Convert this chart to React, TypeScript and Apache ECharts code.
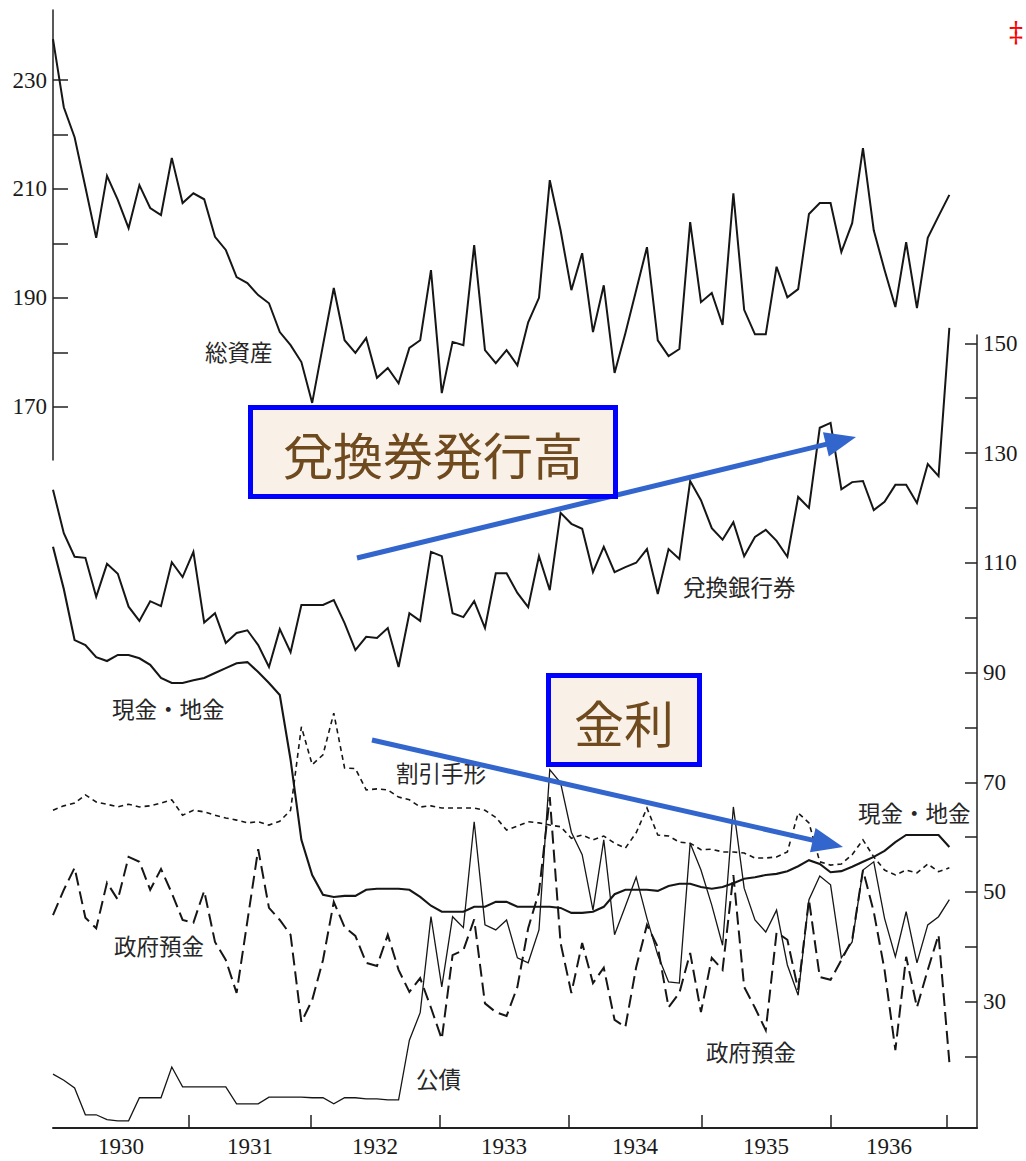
import React, { useEffect, useRef } from "react";
import * as echarts from "echarts";

// ---- data (monthly, Jan 1930 – Dec 1936) ----
const years = ["1930", "1931", "1932", "1933", "1934", "1935", "1936"];
const yearTickPos = [12.59, 23.89, 35.83, 47.78, 60.09, 72.04, 82.78];
const yearLabelPos = [6.3, 18.24, 29.81, 41.76, 53.89, 66.02, 77.41];

const leftTicks = [170, 180, 190, 200, 210, 220, 230];
const leftLabels = [170, 190, 210, 230];
const rightTicks = [20, 30, 40, 50, 60, 70, 80, 90, 100, 110, 120, 130, 140, 150];
const rightLabels = [30, 50, 70, 90, 110, 130, 150];

// 総資産 (left axis)
const totalAssets = [
  237.5, 225.0, 219.5, 210.3, 201.0, 212.4, 208.0, 202.8, 210.7, 206.5,
  205.2, 215.7, 207.4, 209.2, 208.1, 201.2, 198.8, 193.8, 192.7, 190.5,
  189.0, 183.7, 181.3, 178.2, 170.7, 181.3, 191.8, 182.2, 179.9, 182.6,
  175.3, 177.1, 174.3, 180.8, 182.2, 195.1, 172.5, 181.9, 181.3, 199.7,
  180.4, 178.0, 180.4, 177.6, 185.5, 190.0, 211.6, 202.4, 191.4, 198.2,
  183.7, 192.3, 176.2, 183.5, 191.4, 199.3, 182.2, 179.3, 180.6, 203.9,
  189.2, 190.9, 185.0, 209.2, 187.8, 183.3, 183.3, 195.7, 190.1, 191.6,
  205.4, 207.4, 207.4, 198.4, 203.7, 217.5, 202.4, 195.1, 188.3, 200.2,
  188.1, 201.0, 205.0, 208.9,
];

// 兌換銀行券 (right axis)
const bankNotes = [
  123.3, 115.4, 111.1, 110.9, 103.8, 109.8, 108.0, 102.0, 99.4, 103.0,
  102.1, 110.1, 107.4, 112.0, 99.1, 100.8, 95.4, 97.2, 97.7, 95.0,
  91.0, 97.9, 93.7, 102.3, 102.3, 102.3, 103.2, 99.0, 94.1, 96.5,
  96.3, 98.1, 91.0, 100.8, 99.4, 112.0, 111.2, 100.8, 100.1, 103.0,
  98.1, 108.1, 108.1, 104.5, 101.9, 111.2, 105.0, 119.1, 117.1, 116.2,
  108.3, 112.9, 108.3, 109.2, 110.0, 112.5, 104.3, 112.5, 110.7, 124.9,
  121.4, 116.3, 114.2, 117.4, 111.2, 114.7, 116.0, 114.0, 111.1, 122.0,
  120.0, 134.6, 135.5, 123.4, 124.7, 124.9, 119.6, 121.1, 124.2, 124.2,
  120.9, 128.0, 125.8, 152.8,
];

// 現金・地金 (right axis)
const specie = [
  112.9, 105.2, 95.9, 95.0, 92.8, 92.1, 93.2, 93.2, 92.6, 91.4,
  89.0, 88.1, 88.1, 88.6, 89.0, 89.9, 90.8, 91.7, 91.9, 90.1,
  88.1, 85.9, 74.1, 59.5, 53.1, 49.5, 49.1, 49.3, 49.3, 50.4,
  50.6, 50.6, 50.6, 50.4, 49.1, 47.5, 46.4, 46.4, 46.4, 47.3,
  47.3, 48.2, 48.2, 47.3, 47.3, 47.3, 47.3, 47.1, 46.2, 46.2,
  46.4, 47.3, 49.6, 50.4, 50.4, 50.4, 50.2, 51.1, 51.5, 51.5,
  50.9, 50.6, 50.9, 51.6, 52.4, 52.7, 53.1, 53.3, 53.8, 54.7,
  55.8, 55.1, 53.6, 53.8, 54.6, 55.5, 56.4, 57.5, 59.1, 60.4,
  60.4, 60.4, 60.4, 58.2,
];

// 割引手形 (right axis)
const discountBills = [
  64.9, 65.7, 66.2, 67.7, 66.4, 66.0, 65.5, 66.0, 65.5, 65.7,
  66.2, 66.8, 64.0, 64.9, 64.6, 64.0, 63.5, 63.1, 62.6, 62.8,
  62.2, 62.9, 64.9, 80.1, 73.2, 75.0, 82.6, 72.6, 72.5, 68.6,
  68.8, 68.6, 67.3, 66.8, 65.5, 65.7, 65.3, 65.3, 65.3, 65.3,
  64.9, 63.6, 61.3, 62.0, 62.8, 62.6, 62.2, 61.9, 59.8, 60.4,
  59.5, 60.2, 58.9, 58.0, 60.8, 65.3, 60.4, 60.2, 59.1, 58.9,
  57.7, 57.8, 57.3, 57.3, 57.1, 56.2, 56.2, 56.4, 57.3, 64.4,
  62.6, 55.5, 54.9, 55.1, 56.8, 59.5, 56.4, 54.0, 53.1, 54.0,
  53.5, 55.1, 53.7, 54.4,
];

// 政府預金 (right axis)
const govDeposits = [
  45.8, 50.4, 54.4, 45.3, 43.4, 51.7, 48.6, 56.4, 55.5, 50.4,
  54.2, 49.8, 44.9, 44.4, 50.2, 40.9, 37.6, 31.6, 44.7, 57.8,
  47.1, 44.9, 42.2, 26.3, 30.3, 37.6, 48.2, 43.6, 42.0, 37.1,
  36.5, 42.2, 35.8, 31.8, 34.3, 28.9, 23.2, 38.5, 39.4, 45.0,
  29.7, 28.1, 27.4, 32.7, 43.4, 50.0, 67.3, 40.7, 31.6, 40.7,
  33.4, 36.2, 26.7, 25.4, 36.3, 44.0, 40.0, 29.0, 31.6, 38.9,
  28.1, 38.0, 35.8, 53.1, 32.7, 28.9, 24.8, 42.6, 41.3, 32.2,
  48.6, 34.5, 34.0, 37.6, 41.3, 54.0, 46.4, 35.8, 21.2, 38.2,
  29.0, 35.8, 42.2, 19.0,
];

// 公債 (right axis)
const publicBonds = [
  16.8, 15.7, 14.3, 9.4, 9.4, 8.5, 8.3, 8.3, 12.5, 12.5,
  12.5, 18.1, 14.5, 14.5, 14.5, 14.5, 14.5, 11.4, 11.4, 11.4,
  12.6, 12.6, 12.6, 12.6, 12.5, 12.5, 11.4, 12.5, 12.5, 12.3,
  12.3, 12.1, 12.1, 23.0, 28.0, 45.5, 32.7, 45.5, 43.5, 62.8,
  44.0, 43.1, 44.9, 38.0, 37.1, 43.1, 72.3, 69.9, 60.9, 56.8,
  46.7, 59.5, 42.2, 47.4, 52.7, 45.2, 38.5, 33.6, 33.4, 58.9,
  54.0, 47.6, 40.3, 65.5, 50.7, 44.9, 42.7, 46.7, 36.7, 31.2,
  48.6, 52.9, 51.3, 38.0, 40.9, 54.0, 55.5, 45.2, 38.2, 46.4,
  37.1, 44.0, 45.5, 48.6,
];

const toPoints = (arr: number[]) => arr.map((v, i) => [i, v]);

const INK = "#161616";
const JP = '"Noto Sans CJK JP", "Noto Sans CJK SC", sans-serif';
const SERIF = '"Liberation Serif", "DejaVu Serif", serif';

function jpLabel(text: string, x: number, y: number) {
  return {
    type: "text",
    x,
    y,
    z: 50,
    style: {
      text,
      font: `22.5px ${JP}`,
      fill: "#262626",
      textAlign: "left",
      textVerticalAlign: "middle",
      align: "left",
      verticalAlign: "middle",
    },
  };
}

function arrow(x1: number, y1: number, tipX: number, tipY: number) {
  const dx = tipX - x1;
  const dy = tipY - y1;
  const len = Math.sqrt(dx * dx + dy * dy);
  const ux = dx / len;
  const uy = dy / len;
  const headLen = 31;
  const half = 12.5;
  const bx = tipX - ux * headLen;
  const by = tipY - uy * headLen;
  const px = -uy;
  const py = ux;
  return [
    {
      type: "line",
      z: 60,
      shape: { x1, y1, x2: bx + ux * 2, y2: by + uy * 2 },
      style: { stroke: "#3366CC", lineWidth: 5 },
    },
    {
      type: "polygon",
      z: 60,
      shape: {
        points: [
          [tipX, tipY],
          [bx + px * half, by + py * half],
          [bx - px * half, by - py * half],
        ],
      },
      style: { fill: "#3366CC" },
    },
  ];
}

function box(x: number, y: number, w: number, h: number, text: string) {
  return [
    {
      type: "rect",
      z: 70,
      shape: { x, y, width: w, height: h },
      style: { fill: "#F9F1E7", stroke: "#0000FF", lineWidth: 5 },
    },
    {
      type: "text",
      z: 71,
      x: x + w / 2,
      y: y + h / 2 + 1,
      style: {
        text,
        font: `50px ${JP}`,
        fill: "#6E4A1E",
        textAlign: "center",
        textVerticalAlign: "middle",
        align: "center",
        verticalAlign: "middle",
      },
    },
  ];
}

export default function App() {
  const ref = useRef<HTMLDivElement>(null);

  useEffect(() => {
    if (!ref.current) return;
    const chart = echarts.init(ref.current, null, { renderer: "svg" });
    const xMax = 85.56;

    const lineSeries = (
      name: string,
      data: number[],
      axis: number,
      width: number,
      type: any,
      extra: any = {}
    ) => ({
      name,
      type: "line",
      xAxisIndex: axis,
      yAxisIndex: axis,
      data: toPoints(data),
      symbol: "none",
      showSymbol: false,
      smooth: false,
      lineStyle: { color: INK, width, type, join: "miter" },
      itemStyle: { color: INK },
      emphasis: { disabled: true },
      ...extra,
    });

    chart.setOption({
      animation: false,
      backgroundColor: "#ffffff",
      grid: [
        { left: 53, right: 49, top: 10, height: 450 },
        { left: 53, right: 49, top: 335, height: 793 },
      ],
      xAxis: [
        { gridIndex: 0, type: "value", min: 0, max: xMax, show: false },
        {
          gridIndex: 1,
          type: "value",
          min: 0,
          max: xMax,
          position: "bottom",
          axisLine: { show: true, onZero: false, lineStyle: { color: "#222", width: 2 } },
          axisTick: {
            show: true,
            inside: true,
            length: 13,
            customValues: yearTickPos,
            lineStyle: { color: "#222", width: 1.5 },
          },
          axisLabel: {
            show: true,
            customValues: yearLabelPos,
            formatter: (v: number) => {
              const k = yearLabelPos.findIndex((p) => Math.abs(p - v) < 0.01);
              return k >= 0 ? years[k] : "";
            },
            fontFamily: SERIF,
            fontSize: 23,
            color: "#1a1a1a",
            margin: 7,
          },
          splitLine: { show: false },
        },
      ],
      yAxis: [
        {
          gridIndex: 0,
          type: "value",
          position: "left",
          min: 160.21,
          max: 242.86,
          axisLine: { show: true, onZero: false, lineStyle: { color: "#222", width: 1.5 } },
          axisTick: {
            show: true,
            inside: true,
            length: 15,
            customValues: leftTicks,
            lineStyle: { color: "#222", width: 1.5 },
          },
          axisLabel: {
            show: true,
            customValues: leftLabels,
            fontFamily: SERIF,
            fontSize: 23,
            color: "#1a1a1a",
            margin: 6,
          },
          splitLine: { show: false },
        },
        {
          gridIndex: 1,
          type: "value",
          position: "right",
          min: 6.99,
          max: 151.51,
          axisLine: { show: true, onZero: false, lineStyle: { color: "#222", width: 1.5 } },
          axisTick: {
            show: true,
            inside: true,
            length: 12,
            customValues: rightTicks,
            lineStyle: { color: "#222", width: 1.5 },
          },
          axisLabel: {
            show: true,
            customValues: rightLabels,
            fontFamily: SERIF,
            fontSize: 23,
            color: "#1a1a1a",
            margin: 6,
          },
          splitLine: { show: false },
        },
      ],
      series: [
        lineSeries("総資産", totalAssets, 0, 2),
        lineSeries("兌換銀行券", bankNotes, 1, 2, "solid", { clip: false }),
        lineSeries("現金・地金", specie, 1, 2.1),
        lineSeries("割引手形", discountBills, 1, 1.6, [5, 4]),
        lineSeries("政府預金", govDeposits, 1, 2, [13, 6]),
        lineSeries("公債", publicBonds, 1, 1.3),
      ],
      graphic: [
        jpLabel("総資産", 205, 351),
        jpLabel("兌換銀行券", 683, 586),
        jpLabel("現金・地金", 112, 708),
        jpLabel("割引手形", 396, 772),
        jpLabel("政府預金", 114, 945),
        jpLabel("公債", 416, 1078),
        jpLabel("政府預金", 706, 1051),
        jpLabel("現金・地金", 858, 812),
        ...arrow(357, 558, 856, 437),
        ...arrow(372, 740, 843, 847),
        ...box(250.5, 407.5, 365, 89, "兌換券発行高"),
        ...box(548.5, 675.5, 151, 89, "金利"),
        {
          type: "text",
          x: 1016,
          y: 32,
          z: 80,
          style: {
            text: "‡",
            font: '28px "DejaVu Serif", serif',
            fill: "#FF0000",
            textAlign: "center",
            textVerticalAlign: "middle",
            align: "center",
            verticalAlign: "middle",
          },
        },
      ],
    });

    return () => chart.dispose();
  }, []);

  return (
    <div
      ref={ref}
      style={{
        position: "fixed",
        left: 0,
        top: 0,
        width: 1026,
        height: 1161,
        background: "#fff",
      }}
    />
  );
}
